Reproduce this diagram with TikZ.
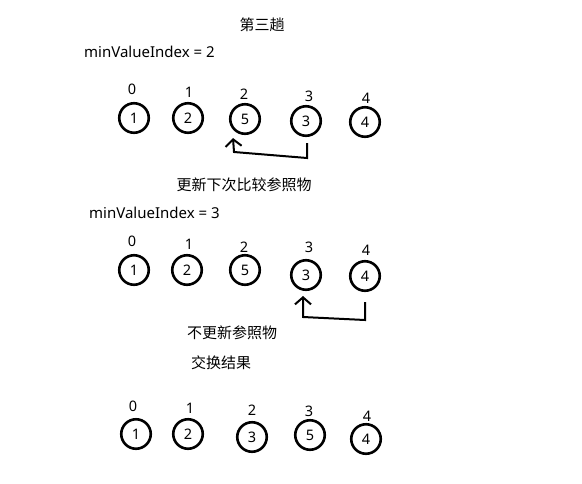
\documentclass[tikz,border=0pt]{standalone}
\usepackage{fontspec}
\setmainfont{Noto Sans}
\newfontfamily\cjkfont{Noto Sans CJK SC}
\usetikzlibrary{arrows.meta}
\begin{document}
\begin{tikzpicture}[x=1pt,y=-1pt,
  ball/.style={circle,draw,line width=2.6pt,minimum size=29.5pt,inner sep=0pt,font=\fontsize{14.5}{14.5}\selectfont},
  idx/.style={font=\fontsize{14.5}{14.5}\selectfont,inner sep=0pt},
  ttl/.style={font=\fontsize{15}{15}\selectfont\cjkfont,inner sep=0pt},
  mvi/.style={font=\fontsize{15}{15}\selectfont,inner sep=0pt,anchor=west},
  hand/.style={line width=2pt,-{Straight Barb[length=7pt,width=16pt,line width=2pt]}}]
\useasboundingbox (0,0) rectangle (582,483);
% row 1
\node[ttl] (t1) at (262,25) {第三趟};
\node[mvi] (m1) at (84,52) {minValueIndex = 2};
\foreach \n/\v/\x/\y/\lx/\ly/\i in {a/1/134/118/132/89/0, b/2/188/118/189/92/1, c/5/245/119/244/94/2, d/3/306/121/309/96/3, e/4/365/122/366/98/4}{
  \node[ball] (r1\n) at (\x,\y) {\v};
  \node[idx] (l1\n) at (\lx,\ly) {\i};
}
\coordinate (s1) at (307,143);
\coordinate (e1) at (233,138);
\draw[hand] (s1) -- (307,158) -- (234,152) -- (e1);
% row 2
\node[ttl] (t2) at (244,185) {更新下次比较参照物};
\node[mvi] (m2) at (89,213) {minValueIndex = 3};
\foreach \n/\v/\x/\y/\lx/\ly/\i in {a/1/134/270/132/241/0, b/2/187/270/189/244/1, c/5/245/270/244/247/2, d/3/306/275/309/247/3, e/4/365/276/366/250/4}{
  \node[ball] (r2\n) at (\x,\y) {\v};
  \node[idx] (l2\n) at (\lx,\ly) {\i};
}
\coordinate (s2) at (365,302);
\coordinate (e2) at (303,296);
\draw[hand] (s2) -- (365,320) -- (303,317) -- (e2);
\node[ttl] (t3) at (232,333) {不更新参照物};
% row 3
\node[ttl] (t4) at (221,363) {交换结果};
\foreach \n/\v/\x/\y/\lx/\ly/\i in {a/1/136/434/133/406/0, b/2/188/434/190/408/1, c/3/252/437/252/410/2, d/5/310/435/309/411/3, e/4/366/439/367/416/4}{
  \node[ball] (r3\n) at (\x,\y) {\v};
  \node[idx] (l3\n) at (\lx,\ly) {\i};
}
\end{tikzpicture}
\end{document}
